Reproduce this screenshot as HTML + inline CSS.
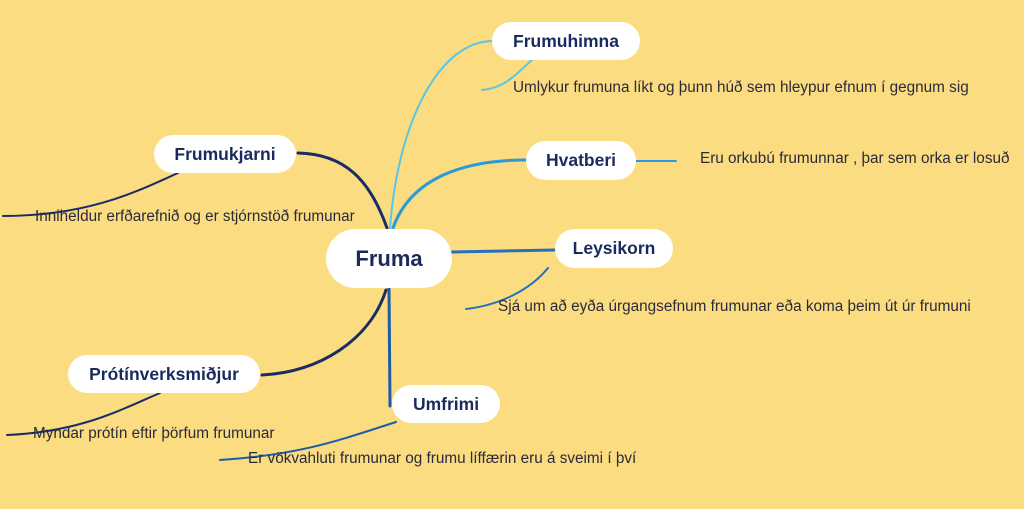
<!DOCTYPE html>
<html><head><meta charset="utf-8"><style>
html,body{margin:0;padding:0;}
body{width:1024px;height:509px;background:#fbdc80;position:relative;overflow:hidden;font-family:"Liberation Sans",sans-serif;}
.n{position:absolute;background:#fff;border-radius:20px;color:#1a2a5e;font-weight:bold;display:flex;align-items:center;justify-content:center;font-size:17.5px;}
.t{position:absolute;color:#2a2a3a;font-size:15.3px;white-space:nowrap;}
svg{position:absolute;left:0;top:0;}
</style></head><body>
<svg width="1024" height="509" fill="none" stroke-linecap="round">
<path d="M390,228 C398,120 440,41 493,41" stroke="#5cc6e2" stroke-width="2"/>
<path d="M532,60 C515,75 505,88 482,90" stroke="#5cc6e2" stroke-width="2"/>
<path d="M393,228 C410,180 460,160 526,160" stroke="#2a9ad8" stroke-width="3"/>
<path d="M636,161 L676,161" stroke="#2a9ad8" stroke-width="2"/>
<path d="M452,252 L555,250" stroke="#2470c0" stroke-width="3"/>
<path d="M548,268 C530,290 500,305 466,309" stroke="#2470c0" stroke-width="2"/>
<path d="M389,288 L390,406" stroke="#1d5ca8" stroke-width="3"/>
<path d="M396,422 C340,440 300,455 220,460" stroke="#1d5ca8" stroke-width="2"/>
<path d="M387,228 C370,180 345,154 298,153" stroke="#1a2c68" stroke-width="3"/>
<path d="M178,173 C140,190 90,216 3,216" stroke="#1a2c68" stroke-width="2"/>
<path d="M386,290 C370,340 320,372 262,375" stroke="#1a2c68" stroke-width="3"/>
<path d="M160,393 C120,410 80,432 7,435" stroke="#1a2c68" stroke-width="2"/>
</svg>
<div class="n" style="left:326px;top:229px;width:126px;height:59px;border-radius:30px;font-size:22px;">Fruma</div>
<div class="n" style="left:492px;top:22px;width:148px;height:38px;">Frumuhimna</div>
<div class="n" style="left:526px;top:141px;width:110px;height:39px;">Hvatberi</div>
<div class="n" style="left:555px;top:229px;width:118px;height:39px;">Leysikorn</div>
<div class="n" style="left:154px;top:135px;width:142px;height:38px;">Frumukjarni</div>
<div class="n" style="left:68px;top:355px;width:192px;height:38px;">Prótínverksmiðjur</div>
<div class="n" style="left:392px;top:385px;width:108px;height:38px;">Umfrimi</div>
<div class="t" style="left:513px;top:79px;">Umlykur frumuna líkt og þunn húð sem hleypur efnum í gegnum sig</div>
<div class="t" style="left:700px;top:150px;">Eru orkubú frumunnar , þar sem orka er losuð</div>
<div class="t" style="left:498px;top:298px;">Sjá um að eyða úrgangsefnum frumunar eða koma þeim út úr frumuni</div>
<div class="t" style="left:35px;top:208px;">Inniheldur erfðarefnið og er stjórnstöð frumunar</div>
<div class="t" style="left:33px;top:425px;">Myndar prótín eftir þörfum frumunar</div>
<div class="t" style="left:248px;top:450px;">Er vökvahluti frumunar og frumu líffærin eru á sveimi í því</div>
</body></html>
